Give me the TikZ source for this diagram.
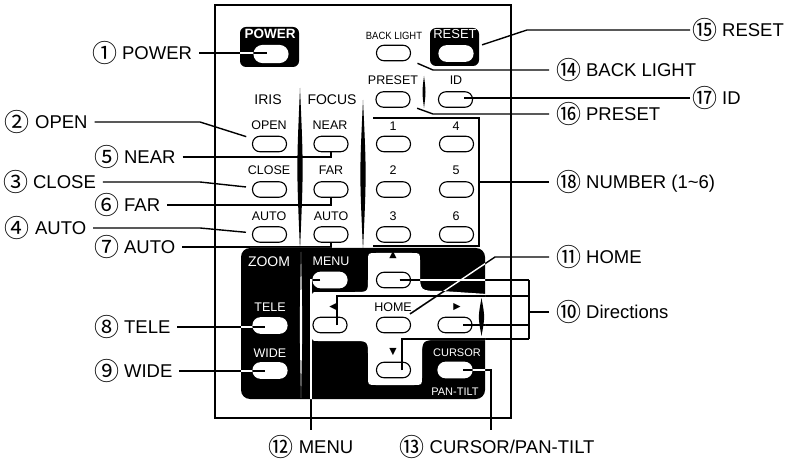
\documentclass[tikz,border=0pt]{standalone}
\usepackage{fontspec}
\setmainfont{Liberation Sans}
\newfontfamily\cjk{Noto Sans CJK JP}
\newfontfamily\trifont{DejaVu Sans}
\newcommand{\circnum}[1]{\raisebox{-2.8pt}{\cjk\fontsize{25}{25}\selectfont #1}}
\newcommand{\panelpath}{[rounded corners=9pt] (241,248) rectangle (485,399)}
\newcommand{\crosspath}{(376,253) -- (412,253) .. controls (420,253) .. (420,261)
  -- (420,272) .. controls (420,291) .. (442,291) -- (487,294) -- (487,340)
  -- (440,340) .. controls (422,340) .. (422,358) -- (422,377) .. controls (422,385) .. (414,385)
  -- (376,385) .. controls (368,385) .. (368,377) -- (368,356) .. controls (368,341) .. (353,341)
  -- (318,341) .. controls (312,341) .. (312,335) -- (312,298) .. controls (312,292) .. (318,292)
  -- (355,292) .. controls (368,292) .. (368,279) -- (368,261) .. controls (368,253) .. (376,253) -- cycle}
\newcommand{\drawleads}[1]{%
  \draw[leadS,#1,shorten >=4pt] (l1.east) -- (l1.east -| bPower);
  \draw[leadS,#1,shorten >=6pt] (l2.east) -- (200,0 |- l2.east) -- (bOpen);
  \draw[leadS,#1] (l5.east) -- (l5.east -| bNear) -- (bNear);
  \draw[leadS,#1,shorten >=6pt] (l3.east) -- (200,0 |- l3.east) -- (bClose);
  \draw[leadS,#1] (l6.east) -- (l6.east -| bFar) -- (bFar);
  \draw[leadS,#1,shorten >=6pt] (l4.east) -- (200,0 |- l4.east) -- (bIrisAuto);
  \draw[leadS,#1] (l7.east) -- (l7.east -| bFocusAuto) -- (bFocusAuto);
  \draw[leadS,#1,shorten >=5pt] (l8.east) -- (l8.east -| bTele);
  \draw[leadS,#1,shorten >=5pt] (l9.east) -- (l9.east -| bWide);
  \draw[leadS,#1,shorten >=9pt] (l15.west) -- (527,0 |- l15.west) -- (bReset);
  \draw[leadS,#1,shorten >=7pt] (l14.west) -- (433,0 |- l14.west) -- (bBack);
  \draw[leadS,#1,shorten >=8pt] (l17.west) -- (l17.west -| bId);
  \draw[leadS,#1,shorten >=7pt] (l16.west) -- (433,0 |- l16.west) -- (bPreset);
  \draw[leadS,#1] (l18.west) -- (l18.west -| numR);
  \draw[leadS,#1,shorten >=5pt] (l11.west) -- (495,0 |- l11.west) -- (bHome);
  \draw[leadS,#1] (l10.west) -- (l10.west -| dirT);
  \draw[leadS,#1] (dirT) -- (dirB);
  \draw[leadS,#1] ([xshift=6pt]bUp.center) -- (bUp -| dirT);
  \draw[leadS,#1] ([xshift=7pt]bLeft.center) |- (dirT |- 0,296);
  \draw[leadS,#1] ([xshift=8pt]bRight.center) -- (bRight -| dirT);
  \draw[leadS,#1] ([xshift=8.5pt]bDown.center) |- (dirB);
  \draw[leadS,#1,shorten >=10pt] ([xshift=-10pt]bMenu.center) -| (l12.north);
  \draw[leadS,#1,shorten >=10pt] ([xshift=8pt]bCursor.center) -| ([xshift=-6pt]l13.north);
}
\begin{document}
\begin{tikzpicture}[x=1pt,y=-1pt,
  btnS/.style={draw=black,fill=white,line width=1.1pt,rounded corners=7.5pt,minimum width=34pt,minimum height=15.5pt,inner sep=0pt},
  btnW/.style={btnS,draw=white},
  keyS/.style={font=\fontsize{12.5}{12.5}\selectfont,inner sep=0pt},
  keyW/.style={keyS,text=white},
  triS/.style={font=\trifont\fontsize{9.5}{9.5}\selectfont,inner sep=0pt},
  callS/.style={font=\fontsize{18.5}{18.5}\selectfont,inner sep=0pt,outer xsep=7pt,text height=13.3pt,text depth=0pt,anchor=west},
  leadS/.style={line width=1.4pt}]
\useasboundingbox (0,0) rectangle (789,462);
\draw[line width=1.6pt] (215,5) rectangle (511,418);

% top row
\fill[rounded corners=6pt] (240,27) rectangle (299,67);
\fill[rounded corners=6pt] (430,28) rectangle (479,66);
\node[btnW,minimum height=17pt,rounded corners=8.5pt] (bPower) at (271,54) {};
\node[btnW] (bReset) at (456,53.5) {};
\node[keyW,font=\bfseries\fontsize{13.5}{13.5}\selectfont] (tPower) at (270,33.5) {POWER};
\node[keyW,font=\fontsize{13}{13}\selectfont] (tReset) at (455,34.5) {RESET};
\node[keyS,font=\fontsize{10.5}{10.5}\selectfont] (tBack) at (394,35.5) {\scalebox{0.9}[1]{BACK LIGHT}};
\node[btnS] (bBack) at (393.5,53) {};
\node[keyS] (tPreset) at (393,80) {PRESET};
\node[keyS] (tId) at (456,80) {ID};
\node[btnS] (bPreset) at (393,99.5) {};
\node[btnS] (bId) at (455.5,99.5) {};
\fill (424,76) .. controls (426,92) .. (424,108) .. controls (422,92) .. (424,76);

% iris / focus
\node[keyS,font=\fontsize{14}{14}\selectfont] (tIris) at (268,99.5) {IRIS};
\node[keyS,font=\fontsize{14}{14}\selectfont] (tFocus) at (332,99.5) {FOCUS};
\fill (300,88) .. controls (303.5,168) .. (300,250) .. controls (296.5,168) .. (300,88);
\fill (363,100) .. controls (366.5,174) .. (363,250) .. controls (359.5,174) .. (363,100);
\node[keyS] (tOpen) at (269,125.5) {OPEN};
\node[keyS] (tNear) at (330,125.5) {NEAR};
\node[keyS] (tClose) at (269,170.5) {CLOSE};
\node[keyS] (tFar) at (331,170.5) {FAR};
\node[keyS] (tIrisAuto) at (269,216.5) {AUTO};
\node[keyS] (tFocusAuto) at (331,216.5) {AUTO};
\node[btnS] (bOpen) at (269.5,144) {};
\node[btnS] (bNear) at (331,144) {};
\node[btnS] (bClose) at (269.5,189.5) {};
\node[btnS] (bFar) at (331,189.5) {};
\node[btnS] (bIrisAuto) at (269.5,234.5) {};
\node[btnS] (bFocusAuto) at (331,234.5) {};

% number keys
\draw[leadS] (373,118) -- (479,118) -- (479,246) -- (373,246);
\coordinate (numR) at (479,182);
\node[keyS] (tOne) at (393,126) {1};
\node[keyS] (tFour) at (456,126) {4};
\node[keyS] (tTwo) at (393,170.5) {2};
\node[keyS] (tFive) at (456,170.5) {5};
\node[keyS] (tThree) at (393,216.5) {3};
\node[keyS] (tSix) at (456,216.5) {6};
\node[btnS] (bOne) at (393.5,144) {};
\node[btnS] (bFour) at (456.5,144) {};
\node[btnS] (bTwo) at (393.5,189.5) {};
\node[btnS] (bFive) at (456.5,189.5) {};
\node[btnS] (bThree) at (393.5,234.5) {};
\node[btnS] (bSix) at (456.5,234.5) {};

% zoom and direction panel
\fill \panelpath;
\fill[white] \crosspath;
\fill (481.5,298) .. controls (485,317) .. (481.5,336) .. controls (478,317) .. (481.5,298);
\fill[white] (301,252) .. controls (302.5,325) .. (301,398) .. controls (299.5,325) .. (301,252);
\node[keyW,font=\fontsize{14}{14}\selectfont] (tZoom) at (269,261.5) {ZOOM};
\node[keyW] (tMenu) at (331,261) {MENU};
\node[keyW] (tTele) at (270,307.5) {TELE};
\node[keyW] (tWide) at (270,353.5) {WIDE};
\node[triS] (tUp) at (393,255) {▲};
\node[triS] (tLeft) at (333,307.5) {◀};
\node[keyS] (tHome) at (393,307.5) {HOME};
\node[triS] (tRight) at (457,307.5) {▶};
\node[triS] (tDown) at (393,352.5) {▼};
\node[keyW,font=\fontsize{11}{11}\selectfont] (tCursor) at (457,352.5) {CURSOR};
\node[keyW,font=\fontsize{11}{11}\selectfont] (tPanTilt) at (455,391.5) {PAN-TILT};
\node[btnW] (bTele) at (270,325.5) {};
\node[btnW] (bWide) at (270,370.5) {};
\node[btnW] (bMenu) at (330,280) {};
\node[btnS] (bUp) at (393.5,280) {};
\node[btnS] (bLeft) at (330,325) {};
\node[btnS] (bHome) at (393.5,325) {};
\node[btnS] (bRight) at (455,325) {};
\node[btnS] (bDown) at (393.5,370) {};
\node[btnW] (bCursor) at (455,370) {};
\coordinate (dirT) at (529,280);
\coordinate (dirB) at (529,339);

% callouts
\node[callS] (l1) at (85,53) {\circnum{①} POWER};
\node[callS] (l2) at (-2,122) {\circnum{②} OPEN};
\node[callS] (l5) at (87,157) {\circnum{⑤} NEAR};
\node[callS] (l3) at (-4,182) {\circnum{③} CLOSE};
\node[callS] (l6) at (87,205) {\circnum{⑥} FAR};
\node[callS] (l4) at (-2,228) {\circnum{④} AUTO};
\node[callS] (l7) at (87,247) {\circnum{⑦} AUTO};
\node[callS] (l8) at (87,327) {\circnum{⑧} TELE};
\node[callS] (l9) at (87,371) {\circnum{⑨} WIDE};
\node[callS,outer xsep=2pt] (l15) at (690,30) {\circnum{⑮} RESET};
\node[callS] (l14) at (549,70) {\circnum{⑭} BACK LIGHT};
\node[callS,outer xsep=2pt] (l17) at (690,98) {\circnum{⑰} ID};
\node[callS] (l16) at (549,114) {\circnum{⑯} PRESET};
\node[callS] (l18) at (549,182) {\circnum{⑱} NUMBER (1\textasciitilde 6)};
\node[callS] (l11) at (549,257) {\circnum{⑪} HOME};
\node[callS] (l10) at (549,312) {\circnum{⑩} Directions};
\node[callS,anchor=center] (l12) at (311,447) {\circnum{⑫} MENU};
\node[callS,anchor=center] (l13) at (497,447) {\circnum{⑬} CURSOR/PAN-TILT};

% leader lines, inverted over the black areas
\drawleads{black}
\begin{scope}
  \clip \panelpath [rounded corners=6pt] (240,27) rectangle (299,67) (430,28) rectangle (479,66);
  \drawleads{white}
  \begin{scope}
    \clip \crosspath [rounded corners=7.5pt] (bPower.south west) rectangle (bPower.north east)
      (bReset.south west) rectangle (bReset.north east) (bTele.south west) rectangle (bTele.north east)
      (bWide.south west) rectangle (bWide.north east) (bMenu.south west) rectangle (bMenu.north east)
      (bCursor.south west) rectangle (bCursor.north east);
    \drawleads{black}
  \end{scope}
\end{scope}
\end{tikzpicture}
\end{document}
